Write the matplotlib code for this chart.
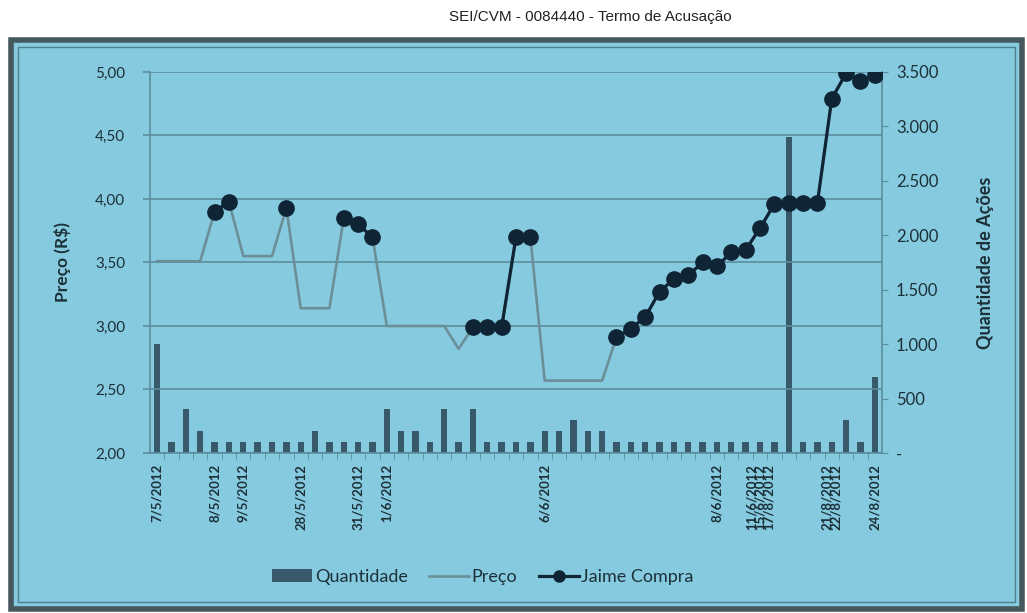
import numpy as np
import matplotlib
matplotlib.use('Agg')
import matplotlib.pyplot as plt
from matplotlib.patches import Rectangle, Patch
from matplotlib.lines import Line2D

# dados (51 pregões)
preco = [3.51, 3.51, 3.51, 3.51, 3.90, 3.98, 3.55, 3.55, 3.55, 3.93,
         3.14, 3.14, 3.14, 3.85, 3.80, 3.70, 3.00, 3.00, 3.00, 3.00,
         3.00, 2.82, 2.99, 2.99, 2.99, 3.70, 3.70, 2.57, 2.57, 2.57,
         2.57, 2.57, 2.91, 2.98, 3.07, 3.27, 3.37, 3.40, 3.50, 3.47,
         3.58, 3.60, 3.77, 3.96, 3.97, 3.97, 3.97, 4.79, 4.99, 4.93, 4.98]

quantidade = [1000, 100, 400, 200, 100, 100, 100, 100, 100, 100,
              100, 200, 100, 100, 100, 100, 400, 200, 200, 100,
              400, 100, 400, 100, 100, 100, 100, 200, 200, 300,
              200, 200, 100, 100, 100, 100, 100, 100, 100, 100,
              100, 100, 100, 100, 2900, 100, 100, 100, 300, 100, 700]

# pregões em que houve compra do Jaime
jaime_idx = [4, 5, 9, 13, 14, 15, 22, 23, 24, 25, 26] + list(range(32, 51))

rotulo_idx = [0, 4, 6, 10, 14, 16, 27, 39, 42, 47, 50]
rotulos = ['7/5/2012', '8/5/2012', '9/5/2012', '28/5/2012', '31/5/2012',
           '1/6/2012', '6/6/2012', '8/6/2012',
           '11/6/2012\n15/6/2012\n17/8/2012', '21/8/2012\n22/8/2012',
           '24/8/2012']

preco_ticks = [2.0, 2.5, 3.0, 3.5, 4.0, 4.5, 5.0]
qtd_ticks = [0, 500, 1000, 1500, 2000, 2500, 3000, 3500]
qtd_labels = ['-', '500', '1.000', '1.500', '2.000', '2.500', '3.000', '3.500']

x = np.arange(len(preco))
jaime = np.full(len(preco), np.nan)
for i in jaime_idx:
    jaime[i] = preco[i]

bg = '#86cadf'
grid_c = '#5a8d9b'
bar_c = '#38596a'
line_c = '#6b8f99'
jaime_c = '#0f2434'
txt_c = '#1c3038'
font = 'Lato'

W, H = 1027, 613
fig = plt.figure(figsize=(W / 100, H / 100), dpi=100, facecolor='white')

# moldura azul do gráfico escaneado
fig.patches.append(Rectangle((11 / W, 1 - 609 / H), 1011 / W, 569 / H,
                             transform=fig.transFigure, facecolor=bg,
                             edgecolor='#46575d', linewidth=4, zorder=-10))
fig.patches.append(Rectangle((18 / W, 1 - 602 / H), 997 / W, 555 / H,
                             transform=fig.transFigure, facecolor='none',
                             edgecolor='#4f7f8c', linewidth=1, zorder=-9))

fig.text(590 / W, 1 - 17 / H, 'SEI/CVM - 0084440 - Termo de Acusação',
         ha='center', va='center', fontsize=11, family='Liberation Sans',
         color='#222222')

ax_q = fig.add_axes([150 / W, (H - 453) / H, 732 / W, 381 / H])
ax_p = ax_q.twinx()
ax_q.patch.set_visible(False)
ax_p.patch.set_visible(False)

# quantidade: barras, eixo da direita
ax_q.bar(x, quantidade, width=0.44, color=bar_c)
ax_q.set_xlim(-0.5, len(preco) - 0.5)
ax_q.set_ylim(0, 3500)
ax_q.yaxis.tick_right()
ax_q.yaxis.set_label_position('right')
ax_q.set_yticks(qtd_ticks, qtd_labels)
ax_q.tick_params(axis='y', length=4, color=grid_c, pad=6, labelsize=12,
                 labelcolor=txt_c)
for t in ax_q.get_yticklabels():
    t.set_family(font)
ax_q.set_ylabel('Quantidade de Ações', fontsize=13, fontweight='bold',
                family=font, color=txt_c, labelpad=28)

ax_q.set_xticks(rotulo_idx, rotulos)
ax_q.set_xticks(x[:-1] + 0.5, minor=True)
ax_q.tick_params(axis='x', which='major', length=0, pad=8)
ax_q.tick_params(axis='x', which='minor', length=4, color=grid_c)
for t in ax_q.get_xticklabels():
    t.set_rotation(90)
    t.set_ha('center')
    t.set_va('top')
    t.set_fontsize(9.5)
    t.set_fontweight('bold')
    t.set_family(font)
    t.set_color(txt_c)
    t.set_linespacing(0.68)

for s in ['left', 'right', 'bottom']:
    ax_q.spines[s].set_color(grid_c)
    ax_q.spines[s].set_linewidth(1.2)
ax_q.spines['top'].set_visible(False)

# preço: linhas, eixo da esquerda
ax_p.yaxis.tick_left()
ax_p.yaxis.set_label_position('left')
ax_p.set_ylim(2, 5)
ax_p.set_yticks(preco_ticks, [f'{v:.2f}'.replace('.', ',') for v in preco_ticks])
ax_p.tick_params(axis='y', length=5, color=grid_c, width=1.2, pad=13,
                 labelsize=11, labelcolor=txt_c)
for t in ax_p.get_yticklabels():
    t.set_family(font)
ax_p.grid(axis='y', color=grid_c, linewidth=1.2)
for s in ax_p.spines.values():
    s.set_visible(False)
ax_p.set_ylabel('Preço (R$)', fontsize=12.5, fontweight='bold', family=font,
                color=txt_c, labelpad=17)

ax_p.plot(x, preco, color=line_c, linewidth=1.9)
ax_p.plot(x, jaime, color=jaime_c, linewidth=2.3, marker='o', markersize=11)

handles = [Patch(facecolor=bar_c, edgecolor='none'),
           Line2D([], [], color=line_c, linewidth=1.9),
           Line2D([], [], color=jaime_c, linewidth=2.3, marker='o', markersize=8)]
fig.legend(handles, ['Quantidade', 'Preço', 'Jaime Compra'], loc='center',
           bbox_to_anchor=(483 / W, 1 - 577 / H), ncol=3, frameon=False,
           handlelength=2.2, handletextpad=0.15, columnspacing=1.2,
           prop={'family': font, 'size': 13}, labelcolor=txt_c)

fig.savefig('out.png', dpi=100, facecolor='white')
